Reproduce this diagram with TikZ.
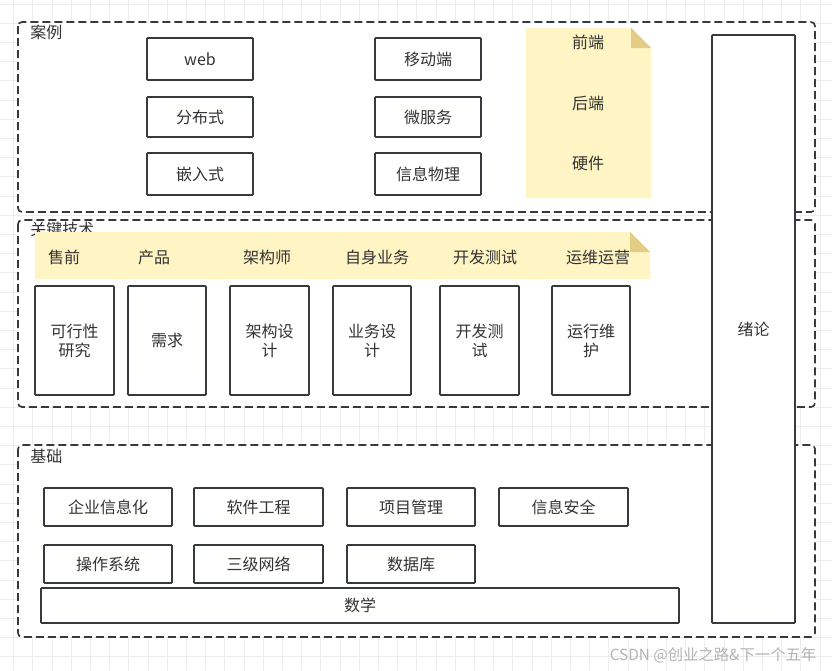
\documentclass[tikz,border=0pt]{standalone}
\usepackage{fontspec}
\setmainfont{Noto Sans CJK SC}
\begin{document}
\definecolor{txt}{HTML}{333333}
\definecolor{edge}{HTML}{36393D}
\definecolor{note}{HTML}{FFF4C3}
\definecolor{fold}{HTML}{E3CD85}
\definecolor{gridc}{HTML}{EDEDED}
\begin{tikzpicture}[x=0.75pt,y=-0.75pt,
  font=\fontsize{12}{14.3}\selectfont, text=txt,
  container/.style={draw=edge, line width=1.25pt, dash pattern=on 6pt off 3pt, rounded corners=3pt, fill=white},
  box/.style={draw=edge, line width=1.25pt, fill=white, rounded corners=0.6pt, align=center},
  lbl/.style={anchor=west, inner sep=0pt},
  ]
\useasboundingbox (0,0) rectangle (832,671);
\fill[white] (0,0) rectangle (832,671);
% grid
\foreach \i in {0,...,43} {\draw[gridc, line width=0.5pt] ({13.5+19.2*\i},0) -- ({13.5+19.2*\i},671);}
\foreach \i in {0,...,34} {\draw[gridc, line width=0.5pt] (0,{4+19.2*\i}) -- (832,{4+19.2*\i});}

% containers
\draw[container] (18,22) rectangle (815,212);
\draw[container] (18,220) rectangle (815,407);
\draw[container] (18,445) rectangle (815,637);
\node[lbl] (l1) at (30,32) {案例};
\node[lbl] (l2) at (30,229) {关键技术};
\node[lbl] (l3) at (30,456) {基础};

% case boxes
\node[box, minimum width=106pt*0.75, minimum height=42pt*0.75] (web) at (200,59) {web};
\node[box, minimum width=106pt*0.75, minimum height=40pt*0.75] (fbs) at (200,117) {分布式};
\node[box, minimum width=106pt*0.75, minimum height=42pt*0.75] (qrs) at (200,174) {嵌入式};
\node[box, minimum width=106pt*0.75, minimum height=42pt*0.75] (ydd) at (428,59) {移动端};
\node[box, minimum width=106pt*0.75, minimum height=40pt*0.75] (wfw) at (428,117) {微服务};
\node[box, minimum width=106pt*0.75, minimum height=42pt*0.75] (xxwl) at (428,174) {信息物理};

% note 1
\fill[note] (526,28) -- (631,28) -- (651,48) -- (651,198) -- (526,198) -- cycle;
\fill[fold] (631,28) -- (651,48) -- (631,48) -- cycle;
\node (qd) at (588,42) {前端};
\node (hd) at (588,103) {后端};
\node (yj) at (588,163) {硬件};

% note 2 band
\fill[note] (35,232) -- (630,232) -- (650,252) -- (650,279) -- (35,279) -- cycle;
\fill[fold] (630,232) -- (650,252) -- (630,252) -- cycle;
\node (sq) at (64,257) {售前};
\node (cp) at (154,257) {产品};
\node (jgs) at (267,257) {架构师};
\node (zsyw) at (377,257) {自身业务};
\node (kfcs) at (485,257) {开发测试};
\node (ywyy) at (598,257) {运维运营};

% key tech boxes
\node[box, minimum width=79pt*0.75, minimum height=109pt*0.75] (kxx) at (74.5,340.5) {可行性\\研究};
\node[box, minimum width=78pt*0.75, minimum height=109pt*0.75] (xq) at (167,340.5) {需求};
\node[box, minimum width=79pt*0.75, minimum height=109pt*0.75] (jgsj) at (269.5,340.5) {架构设\\计};
\node[box, minimum width=78pt*0.75, minimum height=109pt*0.75] (ywsj) at (372,340.5) {业务设\\计};
\node[box, minimum width=79pt*0.75, minimum height=109pt*0.75] (kfcs2) at (479.5,340.5) {开发测\\试};
\node[box, minimum width=78pt*0.75, minimum height=109pt*0.75] (yxwh) at (591,340.5) {运行维\\护};

% base boxes
\node[box, minimum width=128pt*0.75, minimum height=38pt*0.75] (qyxxh) at (108,507) {企业信息化};
\node[box, minimum width=129pt*0.75, minimum height=38pt*0.75] (rjgc) at (258.5,507) {软件工程};
\node[box, minimum width=128pt*0.75, minimum height=38pt*0.75] (xmgl) at (411,507) {项目管理};
\node[box, minimum width=129pt*0.75, minimum height=38pt*0.75] (xxaq) at (563.5,507) {信息安全};
\node[box, minimum width=128pt*0.75, minimum height=38pt*0.75] (czxt) at (108,564) {操作系统};
\node[box, minimum width=129pt*0.75, minimum height=38pt*0.75] (sjwl) at (258.5,564) {三级网络};
\node[box, minimum width=128pt*0.75, minimum height=38pt*0.75] (sjk) at (411,564) {数据库};
\node[box, minimum width=638pt*0.75, minimum height=35pt*0.75] (sx) at (360,605.5) {数学};

% 绪论
\node[box, minimum width=83pt*0.75, minimum height=588pt*0.75] (xl) at (753.5,329) {绪论};

% watermark
\node[anchor=east, text=gray!60, font=\fontsize{11.5}{13}\selectfont] (wm) at (821,655) {CSDN @创业之路\&下一个五年};
\end{tikzpicture}
\end{document}
